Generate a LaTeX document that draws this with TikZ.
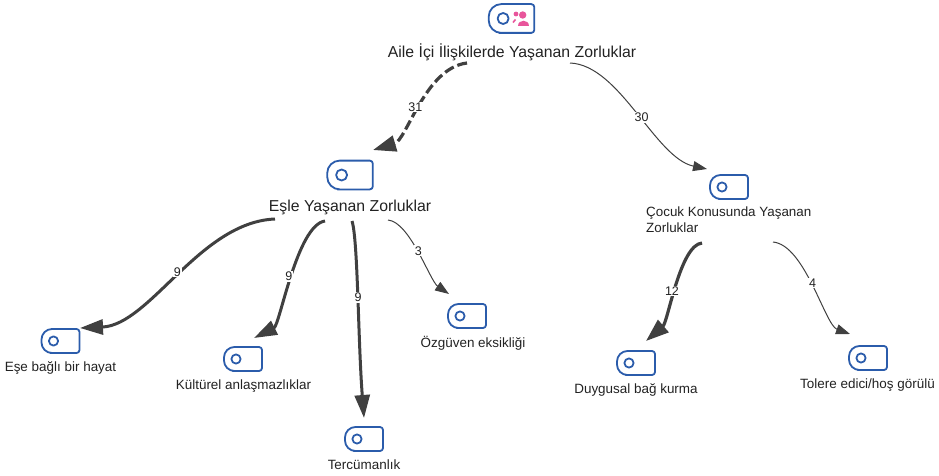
\documentclass[tikz,border=0pt]{standalone}
\usepackage{fontspec}
\setmainfont{Liberation Sans}
\usetikzlibrary{arrows.meta,calc}
\definecolor{iconblue}{HTML}{2B5CAB}
\definecolor{edgegray}{HTML}{404040}
\definecolor{peoplepink}{HTML}{E8559B}
\definecolor{textdark}{HTML}{222222}
\tikzset{
  x=1pt,y=-1pt,
  iconshell/.style={inner sep=0pt,outer sep=0pt,minimum width=38pt,minimum height=24pt},
  iconline/.style={draw=iconblue,line width=1.8pt,line join=round},
  bigtitle/.style={font=\fontsize{15.8}{18}\selectfont,text=textdark,inner sep=0pt},
  smalltitle/.style={font=\fontsize{13.45}{16}\selectfont,text=textdark,inner sep=0pt},
  wraptitle/.style={font=\fontsize{13.4}{16}\selectfont,text=textdark,inner sep=0pt,align=left},
  edgelabel/.style={font=\fontsize{12.5}{14}\selectfont,text=textdark,fill=white,inner sep=1pt},
  heavy/.style={draw=edgegray,line width=3.2pt,-{Triangle[length=23pt,width=16pt]}},
  medium/.style={draw=edgegray,line width=3pt,-{Triangle[length=23pt,width=15pt]}},
  slim/.style={draw=edgegray,line width=1pt,-{Triangle[length=14pt,width=10pt]}},
}
\newcommand{\iconbox}[4]{%
  \node[iconshell,scale=#4] (#1) at (#2,#3) {};
  \begin{scope}[shift={(#1.center)},scale=#4]
    \draw[iconline] [rounded corners=#4*10.5pt] (0,-12) -- (-19,-12) -- (-19,12) -- (0,12)
      [rounded corners=3pt] -- (19,12) -- (19,-12) -- cycle;
    \draw[iconline] (-7,0) circle[radius=4.6pt];
  \end{scope}}
\begin{document}
\begin{tikzpicture}
\useasboundingbox (0,0) rectangle (939,476);
\iconbox{iconroot}{511.5}{18.5}{1.2}
\fill[peoplepink] (522.7,15) circle[radius=3.7pt];
\fill[peoplepink] (517.5,26) .. controls (517.5,19.5) and (528.5,19.5) .. (528.5,26) -- cycle;
\fill[peoplepink] (516,14) circle[radius=2.4pt];
\draw[peoplepink,line width=1.6pt] (515.5,19.5) -- (513,22.5);
\node[bigtitle] (root) at (512,52) {Aile İçi İlişkilerde Yaşanan Zorluklar};
\iconbox{iconspouse}{350}{175}{1.2}
\node[bigtitle] (spouse) at (350,207) {Eşle Yaşanan Zorluklar};
\iconbox{iconchild}{729}{187}{1}
\node[wraptitle,anchor=north west] (child) at (646,207) {Çocuk Konusunda Yaşanan\\Zorluklar};
\iconbox{iconbound}{60.5}{341}{1}
\node[smalltitle] (bound) at (60.5,368) {Eşe bağlı bir hayat};
\iconbox{iconculture}{243}{359}{1}
\node[smalltitle] (culture) at (243.5,386) {Kültürel anlaşmazlıklar};
\iconbox{icontrans}{364}{439}{1}
\node[smalltitle] (trans) at (364,465) {Tercümanlık};
\iconbox{iconconf}{467}{316}{1}
\node[smalltitle] (conf) at (473,343) {Özgüven eksikliği};
\iconbox{iconbond}{636}{363}{1}
\node[smalltitle] (bond) at (636,390) {Duygusal bağ kurma};
\iconbox{icontol}{868}{358}{1}
\node[smalltitle] (tol) at (867.5,385) {Tolere edici/hoş görülü};

\draw[heavy,dash pattern=on 10pt off 4pt]
  ([shift={(-45,11)}]root.center) .. controls (425,68) and (407,140) .. ([shift={(23,-25)}]iconspouse.center)
  node[edgelabel,pos=.52,solid] {31};
\draw[slim] ([shift={(58,11)}]root.center) .. controls (620,65) and (655,158) .. ([shift={(-22,-18)}]iconchild.center)
  node[edgelabel,pos=.53] {30};
\draw[medium] ([shift={(-75,12)}]spouse.center) .. controls (200,222) and (150,325) .. ([shift={(19.5,-13)}]iconbound.center)
  node[edgelabel,pos=.49] {9};
\draw[medium] ([shift={(-25,14)}]spouse.center) .. controls (297,225) and (280,325) .. ([shift={(11,-21)}]iconculture.center)
  node[edgelabel,pos=.5] {9};
\draw[medium] ([shift={(2,14)}]spouse.center) .. controls (358,240) and (358,340) .. ([shift={(0,-21)}]icontrans.center)
  node[edgelabel,pos=.5] {9};
\draw[slim] ([shift={(38,13)}]spouse.center) .. controls (410,222) and (430,281) .. ([shift={(-18,-22)}]iconconf.center)
  node[edgelabel,pos=.48] {3};
\draw[heavy] ([shift={(56,36)}]child.north west) .. controls (680,245) and (668,322) .. ([shift={(10,-22)}]iconbond.center)
  node[edgelabel,pos=.54] {12};
\draw[slim] ([shift={(127,35)}]child.north west) .. controls (805,245) and (825,325) .. ([shift={(-18,-24)}]icontol.center)
  node[edgelabel,pos=.48] {4};
\end{tikzpicture}
\end{document}
